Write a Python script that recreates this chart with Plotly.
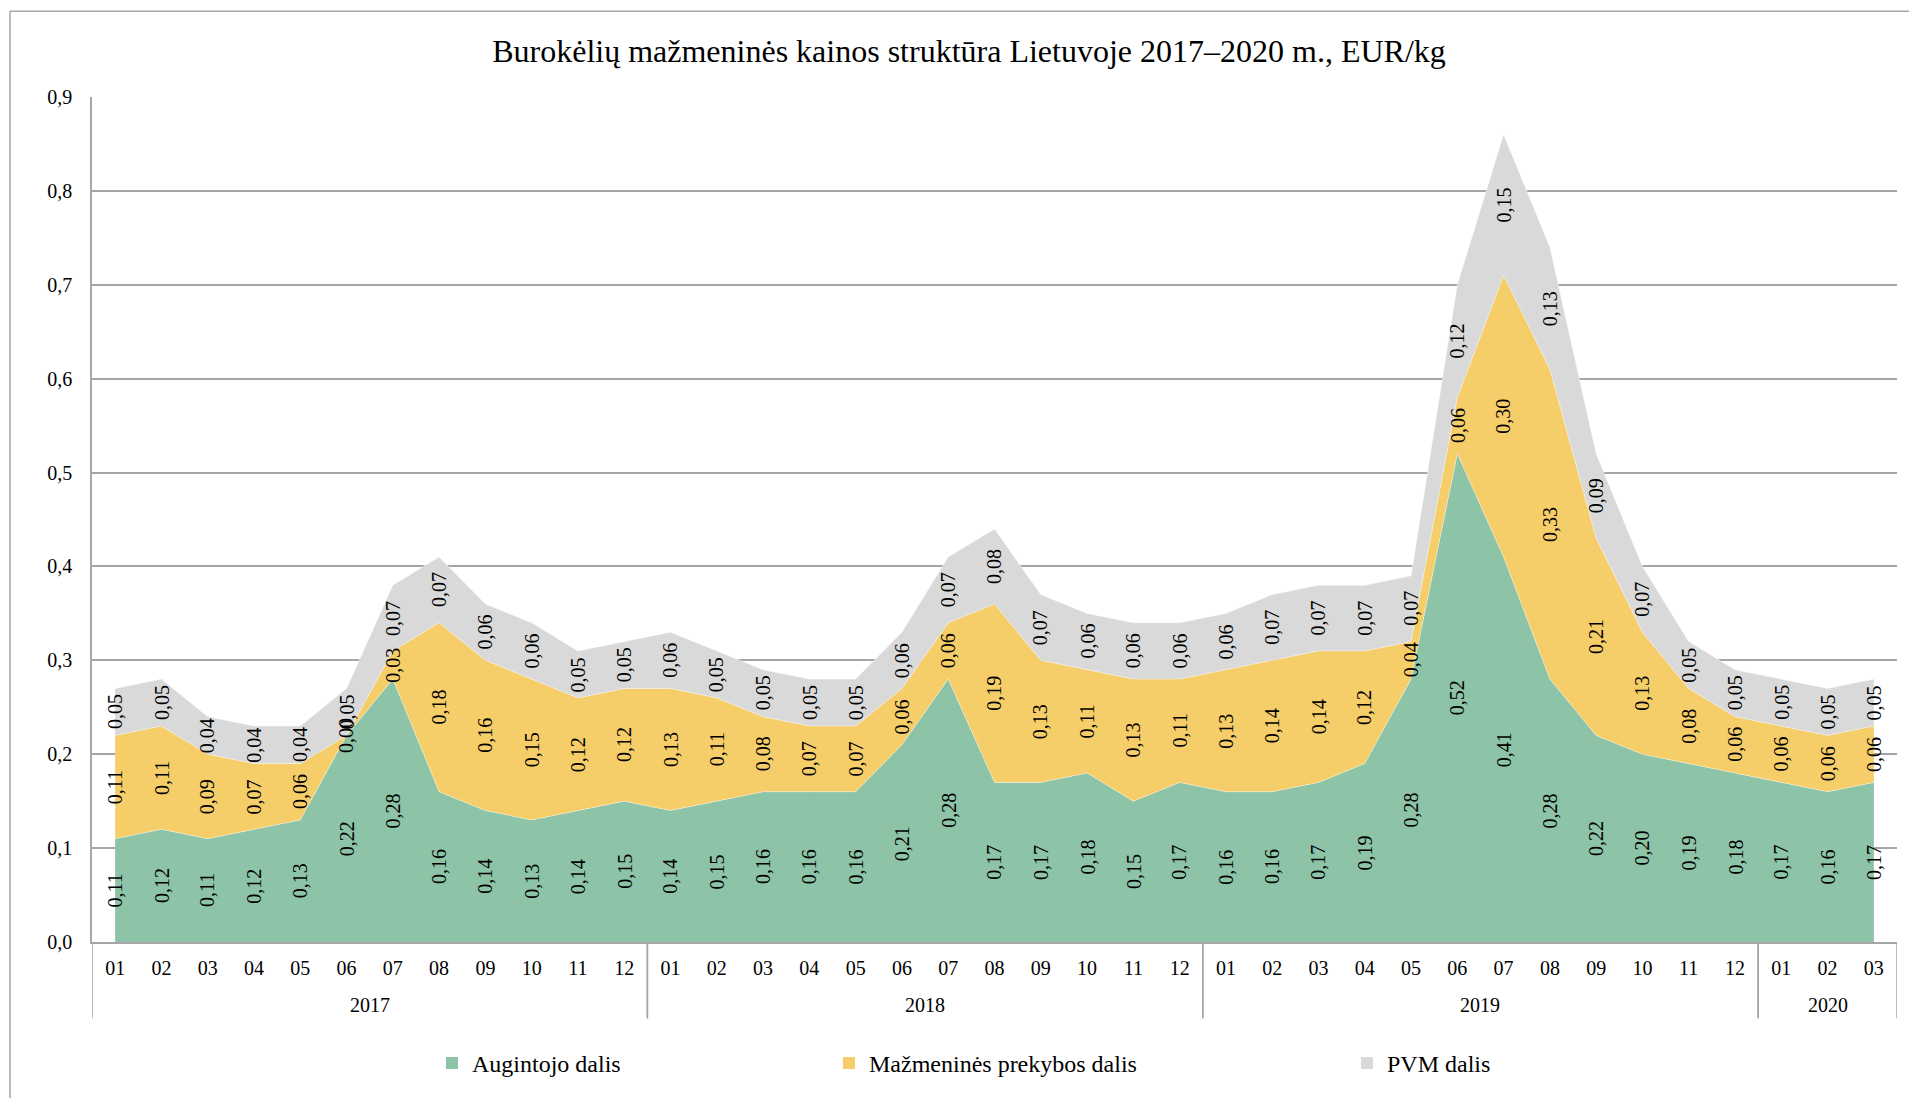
import plotly.graph_objects as go

years = ["2017"] * 12 + ["2018"] * 12 + ["2019"] * 12 + ["2020"] * 3
months = [f"{m:02d}" for m in range(1, 13)] * 3 + ["01", "02", "03"]
periods = [f"{y}-{m}" for y, m in zip(years, months)]

augintojo = [
    0.11, 0.12, 0.11, 0.12, 0.13, 0.22, 0.28, 0.16, 0.14, 0.13, 0.14, 0.15,
    0.14, 0.15, 0.16, 0.16, 0.16, 0.21, 0.28, 0.17, 0.17, 0.18, 0.15, 0.17,
    0.16, 0.16, 0.17, 0.19, 0.28, 0.52, 0.41, 0.28, 0.22, 0.20, 0.19, 0.18,
    0.17, 0.16, 0.17,
]
prekybos = [
    0.11, 0.11, 0.09, 0.07, 0.06, 0.00, 0.03, 0.18, 0.16, 0.15, 0.12, 0.12,
    0.13, 0.11, 0.08, 0.07, 0.07, 0.06, 0.06, 0.19, 0.13, 0.11, 0.13, 0.11,
    0.13, 0.14, 0.14, 0.12, 0.04, 0.06, 0.30, 0.33, 0.21, 0.13, 0.08, 0.06,
    0.06, 0.06, 0.06,
]
pvm = [
    0.05, 0.05, 0.04, 0.04, 0.04, 0.05, 0.07, 0.07, 0.06, 0.06, 0.05, 0.05,
    0.06, 0.05, 0.05, 0.05, 0.05, 0.06, 0.07, 0.08, 0.07, 0.06, 0.06, 0.06,
    0.06, 0.07, 0.07, 0.07, 0.07, 0.12, 0.15, 0.13, 0.09, 0.07, 0.05, 0.05,
    0.05, 0.05, 0.05,
]

series = [
    ("Augintojo dalis", augintojo, "#8DC3A7"),
    ("Mažmeninės prekybos dalis", prekybos, "#F5CD69"),
    ("PVM dalis", pvm, "#D9D9D9"),
]

FONT = "Liberation Serif, Times New Roman, serif"

# the page body adds an 8px margin, so the figure is drawn 8px in from the corner
OFF = 8
FIG_W, FIG_H = 1917 - 2 * OFF, 1106 - 2 * OFF
# plot area in page pixels
L, R, T, B = 92 - OFF, 1897 - OFF, 96.7 - OFF, 941.7 - OFF
W, H = R - L, B - T


def px_x(p):
    return (p - OFF - L) / W


def px_y(p):
    return (B - (p - OFF)) / H


fig = go.Figure()

for name, vals, color in series:
    fig.add_trace(
        go.Scatter(
            x=periods,
            y=vals,
            name=name,
            mode="lines",
            stackgroup="one",
            fillcolor=color,
            line={"color": "rgba(255,255,255,0.5)", "width": 0.8},
            hoverinfo="skip",
            showlegend=False,
        )
    )

# legend entries as square markers, each in its own legend box
legend_x = [432, 829, 1347]
for i, (name, vals, color) in enumerate(series):
    fig.add_trace(
        go.Scatter(
            x=periods,
            y=[None] * len(vals),
            name=name,
            mode="markers",
            marker={"symbol": "square", "size": 12, "color": color},
            legend="legend" if i == 0 else f"legend{i + 1}",
            hoverinfo="skip",
        )
    )

# data labels centred in each band, rotated like the original
base = [0.0] * len(periods)
for name, vals, color in series:
    for i, v in enumerate(vals):
        fig.add_annotation(
            x=periods[i],
            y=base[i] + v / 2,
            text=f"{v:.2f}".replace(".", ","),
            textangle=-90,
            showarrow=False,
            font={"family": FONT, "size": 20, "color": "#000000"},
        )
        base[i] += v

# year group labels and dividers under the month labels
year_list = sorted(set(years))
for yr in year_list:
    idx = [i for i, y in enumerate(years) if y == yr]
    fig.add_annotation(
        x=(idx[0] + idx[-1]) / 2,
        xref="x",
        y=px_y(1005),
        yref="paper",
        yanchor="middle",
        text=yr,
        showarrow=False,
        font={"family": FONT, "size": 20, "color": "#000000"},
    )
    for edge in (idx[0] - 0.5, idx[-1] + 0.5):
        fig.add_shape(
            type="line",
            xref="x",
            yref="paper",
            x0=edge,
            x1=edge,
            y0=0,
            y1=px_y(1018),
            line={"color": "#A6A6A6", "width": 1.5},
        )

legend_common = dict(
    orientation="h",
    yanchor="middle",
    xanchor="left",
    y=px_y(1063),
    font={"family": FONT, "size": 24, "color": "#000000"},
    bgcolor="rgba(0,0,0,0)",
    itemwidth=30,
)
fig.update_layout(
    legend=dict(legend_common, x=px_x(legend_x[0])),
    legend2=dict(legend_common, x=px_x(legend_x[1])),
    legend3=dict(legend_common, x=px_x(legend_x[2])),
)

# outer chart border: only its top and left edges fall inside the picture
border = {"color": "#A6A6A6", "width": 1.5}
fig.add_shape(type="line", xref="paper", yref="paper",
              x0=px_x(10), x1=px_x(1917), y0=px_y(11), y1=px_y(11), line=border)
fig.add_shape(type="line", xref="paper", yref="paper",
              x0=px_x(10), x1=px_x(10), y0=px_y(11), y1=px_y(1106), line=border)

fig.update_layout(
    width=FIG_W,
    height=FIG_H,
    separators=", ",
    margin={"l": L, "r": FIG_W - R, "t": T, "b": FIG_H - B},
    paper_bgcolor="#ffffff",
    plot_bgcolor="#ffffff",
    font={"family": FONT, "size": 20, "color": "#000000"},
    title={
        "text": "Burokėlių mažmeninės kainos struktūra Lietuvoje 2017–2020 m., EUR/kg",
        "x": (969 - OFF) / FIG_W,
        "xanchor": "center",
        "y": 1 - (51 - OFF) / FIG_H,
        "yanchor": "middle",
        "font": {"family": FONT, "size": 32, "color": "#000000"},
    },
)
fig.update_xaxes(
    type="category",
    range=[-0.5, len(periods) - 0.5],
    tickvals=periods,
    ticktext=months,
    showline=True,
    linecolor="#A6A6A6",
    linewidth=1.5,
    showgrid=False,
    ticks="",
    ticklabelstandoff=7,
    tickfont={"family": FONT, "size": 20, "color": "#000000"},
    fixedrange=True,
)
fig.update_yaxes(
    range=[0, 0.9],
    dtick=0.1,
    tickformat=".1f",
    showgrid=True,
    gridcolor="#A6A6A6",
    gridwidth=1.5,
    showline=True,
    linecolor="#A6A6A6",
    linewidth=1.5,
    zeroline=False,
    ticks="",
    ticklabelstandoff=14,
    tickfont={"family": FONT, "size": 20, "color": "#000000"},
    fixedrange=True,
)

fig.write_html("out.html")
